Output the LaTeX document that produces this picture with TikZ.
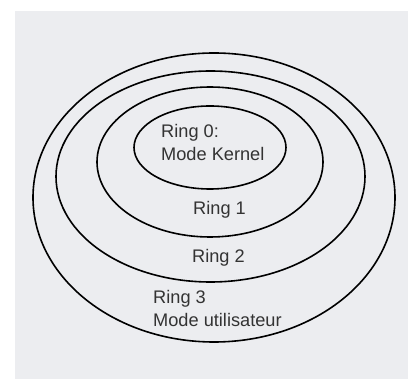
\documentclass[tikz,border=0pt]{standalone}
\usepackage{fontspec}
\setmainfont{Liberation Sans}
\definecolor{bggray}{RGB}{236,237,240}
\definecolor{txtgray}{RGB}{51,51,51}
\tikzset{ring/.style={line width=1.6pt,black}}
\tikzset{label/.style={inner sep=0pt,anchor=base west,align=left,text=txtgray,
    font=\fontsize{18.2}{23}\selectfont}}

\begin{document}
\begin{tikzpicture}[x=1pt,y=-1pt]
    \useasboundingbox (0,0) rectangle (408,379);
    \fill [bggray] (15,11) rectangle (408,379);
    % rings from outside to inside
    \draw [ring] (214,197.5) ellipse [x radius=181,y radius=144.5];
    \draw [ring] (210.5,176.5) ellipse [x radius=154.5,y radius=105.5];
    \draw [ring] (210,162) ellipse [x radius=113,y radius=75];
    \draw [ring] (210,147.5) ellipse [x radius=76,y radius=41.5];
    \node [label] (r0) at (161,161) {Ring 0:\\Mode Kernel};
    \node [label] (r1) at (193,215) {Ring 1};
    \node [label] (r2) at (192,263) {Ring 2};
    \node [label] (r3) at (153,327) {Ring 3\\Mode utilisateur};
\end{tikzpicture}
\end{document}
